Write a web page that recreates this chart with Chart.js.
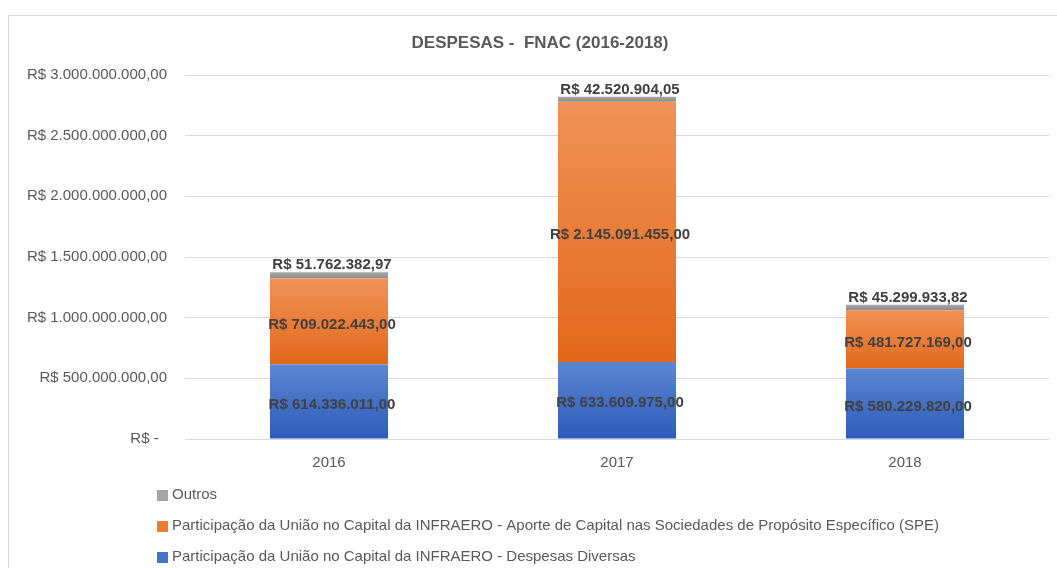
<!DOCTYPE html>
<html>
<head>
<meta charset="utf-8">
<script src="https://cdn.jsdelivr.net/npm/chart.js@4.4.1/dist/chart.umd.min.js"></script>
<style>
  html, body { margin: 0; padding: 0; background: #fff; overflow: hidden; }
  #box { position: absolute; left: 8px; top: 15px; width: 1062px; height: 560px; border: 1px solid #d9d9d9; }
  canvas { display: block; }
</style>
</head>
<body>
<div id="box"><canvas id="chart" width="1062" height="560"></canvas></div>
<script>
const years = ['2016', '2017', '2018'];
const despesasDiversas = [614336011.00, 633609975.00, 580229820.00];
const aporteSPE = [709022443.00, 2145091455.00, 481727169.00];
const outros = [51762382.97, 42520904.05, 45299933.82];
const seriesNames = [
  'Participação da União no Capital da INFRAERO - Despesas Diversas',
  'Participação da União no Capital da INFRAERO - Aporte de Capital nas Sociedades de Propósito Específico (SPE)',
  'Outros'
];
const chartTitle = 'DESPESAS -  FNAC (2016-2018)';

const FONT = '"Liberation Sans", Arial, sans-serif';

// R$ 1.234.567,89
function brl(v) {
  const [i, d] = v.toFixed(2).split('.');
  return 'R$ ' + i.replace(/\B(?=(\d{3})+(?!\d))/g, '.') + ',' + d;
}

// top / bottom colour of each segment gradient
const palette = [
  ['#5b86d2', '#2d5bb9'],
  ['#f19258', '#e2681a'],
  ['#a8a8a8', '#8a8a8a']
];
const legendColors = ['#4472c4', '#ed7d31', '#a5a5a5'];

function segmentFill(ctx) {
  const chart = ctx.chart;
  const [top, bottom] = palette[ctx.datasetIndex];
  const y = chart.scales.y;
  if (ctx.type !== 'data' || !y || !chart.chartArea) return bottom;
  let start = 0;
  for (let k = 0; k < ctx.datasetIndex; k++) start += chart.data.datasets[k].data[ctx.dataIndex];
  const y0 = y.getPixelForValue(start);
  const y1 = y.getPixelForValue(start + ctx.raw);
  if (!isFinite(y0) || !isFinite(y1) || y0 === y1) return bottom;
  const g = chart.ctx.createLinearGradient(0, y1, 0, y0);
  g.addColorStop(0, top);
  g.addColorStop(1, bottom);
  return g;
}

// title centred on the whole (wider than the window) chart box
const boxTitle = {
  id: 'boxTitle',
  afterDraw(chart) {
    const c = chart.ctx;
    c.save();
    c.font = 'bold 17px ' + FONT;
    c.fillStyle = '#595959';
    c.textAlign = 'center';
    c.textBaseline = 'middle';
    c.fillText(chartTitle, chart.width / 2, 27.5);
    c.restore();
  }
};

// value labels on every segment, "Outros" sits on top of the bar
const valueLabels = {
  id: 'valueLabels',
  afterDatasetsDraw(chart) {
    const c = chart.ctx;
    c.save();
    c.font = 'bold 15px ' + FONT;
    c.fillStyle = '#404040';
    c.textAlign = 'center';
    c.textBaseline = 'middle';
    chart.data.datasets.forEach((ds, di) => {
      chart.getDatasetMeta(di).data.forEach((bar, i) => {
        const { x, y, base } = bar.getProps(['x', 'y', 'base'], true);
        const ty = di === 2 ? y - 7 : (y + base) / 2 + 3;
        c.fillText(brl(ds.data[i]), x + 3, ty);
      });
    });
    c.restore();
  }
};

// vertical legend under the x axis, reversed order like Excel
const stackLegend = {
  id: 'stackLegend',
  afterDraw(chart) {
    const c = chart.ctx;
    const top = chart.chartArea.bottom + 56;
    c.save();
    c.font = '15px ' + FONT;
    c.textBaseline = 'middle';
    chart.data.datasets.slice().reverse().forEach((ds, k) => {
      const cy = top + k * 31;
      c.fillStyle = ds.legendColor;
      c.fillRect(148, cy - 5, 11, 11);
      c.fillStyle = '#595959';
      c.fillText(ds.label, 163, cy);
    });
    c.restore();
  }
};

const datasets = [despesasDiversas, aporteSPE, outros].map((values, i) => ({
  label: seriesNames[i],
  data: values,
  legendColor: legendColors[i],
  backgroundColor: segmentFill,
  borderWidth: 0,
  barPercentage: 1,
  categoryPercentage: 0.41
}));

new Chart(document.getElementById('chart'), {
  type: 'bar',
  data: { labels: years, datasets },
  plugins: [boxTitle, valueLabels, stackLegend],
  options: {
    responsive: false,
    animation: false,
    layout: { padding: { left: 0, right: 22, top: 59, bottom: 107 } },
    scales: {
      x: {
        stacked: true,
        grid: { display: false, drawTicks: false },
        border: { display: false },
        ticks: { color: '#595959', font: { family: FONT, size: 15 }, padding: 15 },
        afterFit: s => { s.height = 30; }
      },
      y: {
        stacked: true,
        min: 0,
        max: 3000000000,
        grid: { color: '#d9d9d9', drawTicks: false },
        border: { display: false },
        ticks: {
          stepSize: 500000000,
          padding: 18,
          color: '#595959',
          font: { family: FONT, size: 15 },
          callback: v => v === 0 ? 'R$ -  ' : brl(v)
        },
        afterFit: s => { s.width = 176; }
      }
    },
    plugins: {
      legend: { display: false },
      tooltip: { enabled: false },
      title: { display: false }
    }
  }
});
</script>
</body>
</html>
